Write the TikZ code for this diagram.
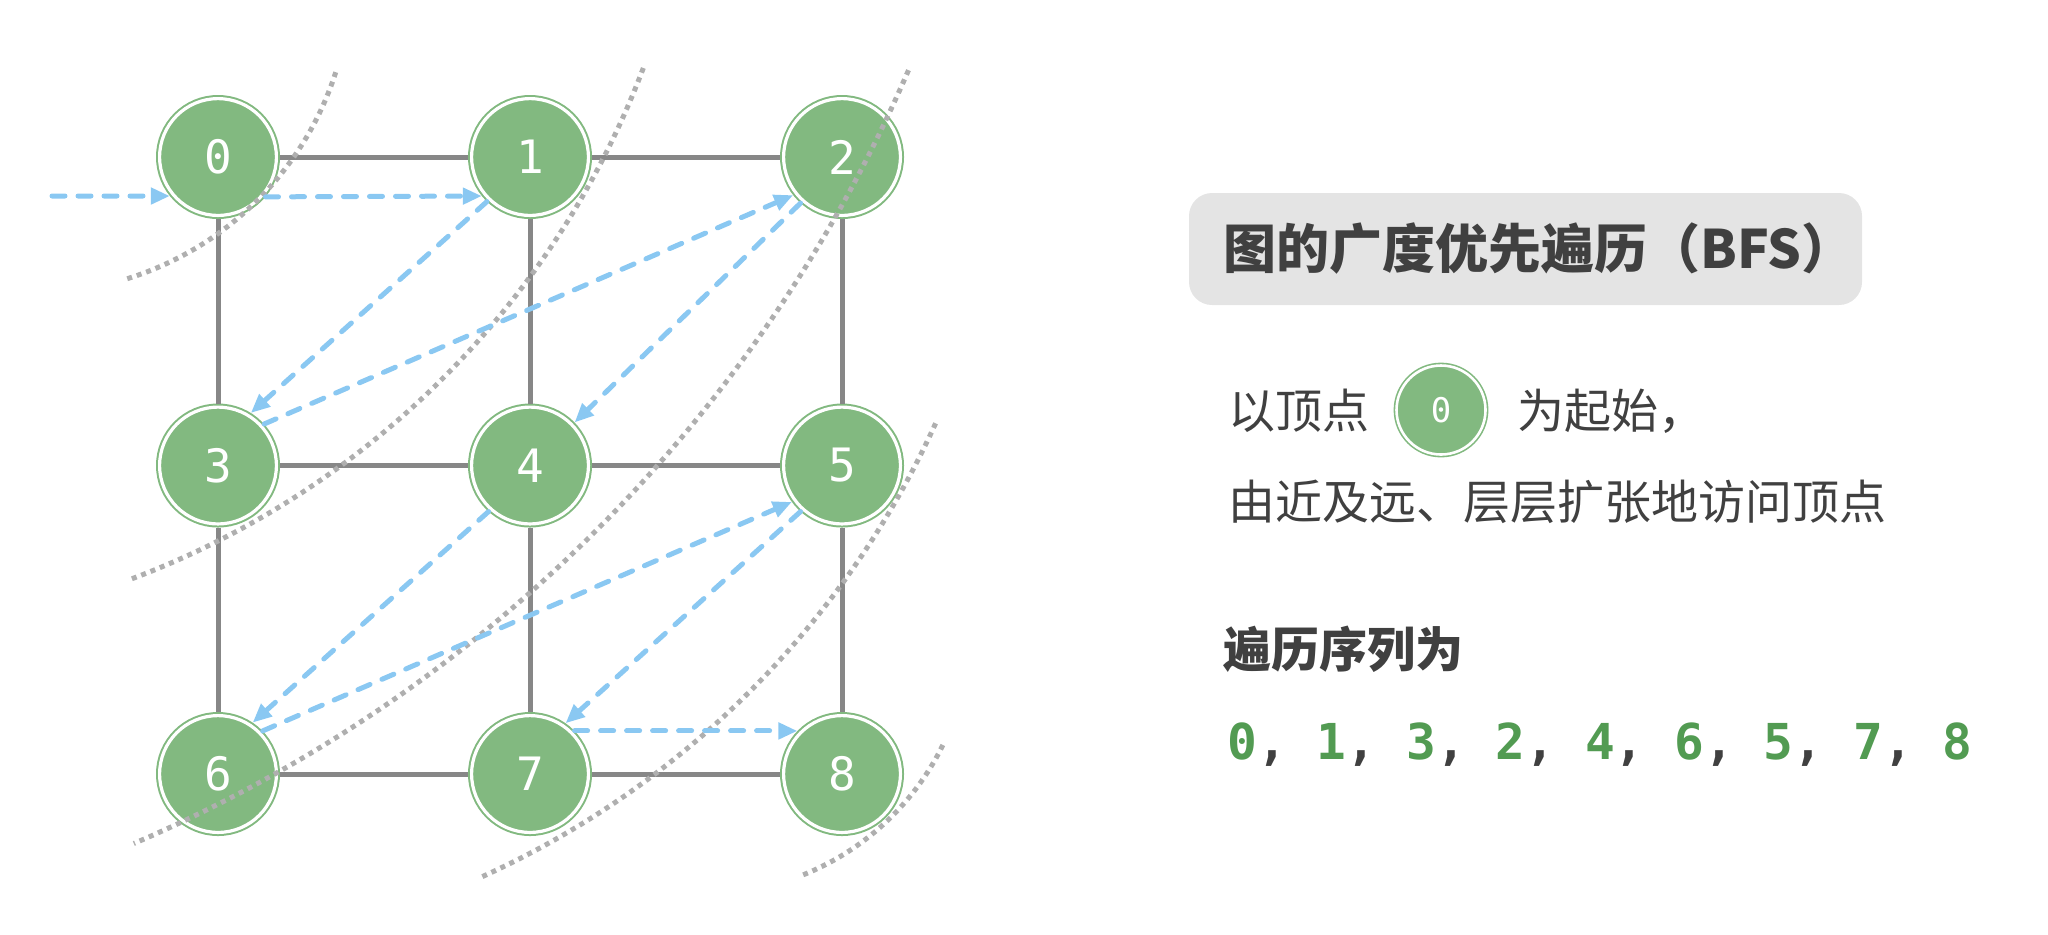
\documentclass[tikz,border=0pt]{standalone}
\usepackage{fontspec}
\newfontfamily\cjk{Noto Sans CJK SC}
\newfontfamily\monodigits{DejaVu Sans Mono}
\usetikzlibrary{arrows.meta}

\definecolor{nodegreen}{RGB}{130,185,128}
\definecolor{seqgreen}{RGB}{82,155,82}
\definecolor{edgegray}{RGB}{135,135,135}
\definecolor{dotgray}{RGB}{175,175,175}
\definecolor{bfsblue}{RGB}{138,200,242}
\definecolor{textgray}{RGB}{64,64,64}
\definecolor{boxgray}{RGB}{228,228,228}

\newcommand{\seqn}[1]{\textcolor{seqgreen}{#1}}

\begin{document}
\begin{tikzpicture}[x=0.5pt, y=-0.5pt,
    vertex/.style={circle, fill=nodegreen, draw=nodegreen, line width=1pt,
        double=white, double distance=1.6pt, minimum size=58.4pt, inner sep=0pt,
        outer sep=1.8pt, text=white, font=\monodigits\fontsize{23}{27}\selectfont},
    smallvertex/.style={vertex, line width=0.8pt, double distance=1.3pt,
        minimum size=44.5pt, font=\monodigits\fontsize{17}{20}\selectfont},
    gridline/.style={draw=edgegray, line width=2.5pt},
    bfsarrow/.style={draw=bfsblue, line width=2.5pt, line cap=round,
        dash pattern=on 6.5pt off 6.5pt, -{Triangle[length=9.5pt, width=8pt]}},
    levelline/.style={draw=dotgray, line width=2.5pt, dash pattern=on 2.5pt off 2.5pt},
    txt/.style={anchor=west, inner sep=0pt, text=textgray, font=\cjk\fontsize{23.5}{28}\selectfont}]

    \useasboundingbox (0,0) rectangle (2048,934);

    % Vertices:
    \foreach \r in {0,1,2}
        \foreach \c in {0,1,2} {
            \pgfmathtruncatemacro\k{3*\r+\c}
            \node[vertex] (n\k) at (218+312*\c, 157+308.5*\r) {\k};
        }

    % Edges:
    \foreach \a/\b in {0/1, 1/2, 3/4, 4/5, 6/7, 7/8, 0/3, 3/6, 1/4, 4/7, 2/5, 5/8}
        \draw[gridline] (n\a) -- (n\b);

    % Levels (centre / start / end / radius):
    \foreach \cx/\cy/\s/\e/\rad in {33/-25/-17.8/-73.2/159, -177/-242/-20.7/-69.5/438.5,
                                    -448/-514/-23.3/-66.8/738.5, 106/47/-24.4/-65.6/455.5,
                                    704/628/-26.1/-68.2/133}
        \draw[levelline] (\cx,\cy) ++(\s:\rad pt) arc[start angle=\s, end angle=\e, radius=\rad pt];

    % Traversal:
    \coordinate (entry) at (52,196);
    \draw[bfsarrow] (entry) -- (n0.-141);
    \foreach \a/\p/\b/\q in {0/-40/1/-141, 1/-134/3/58, 3/42/2/-142, 2/-132/4/44,
                             4/-132/6/56, 6/44/5/-144, 5/-132/7/55, 7/44/8/136}
        \draw[bfsarrow] (n\a.\p) -- (n\b.\q);

    % Legend:
    \fill[boxgray, rounded corners=11.5pt] (1189,193) rectangle (1862,305);
    \node[txt, font=\cjk\bfseries\fontsize{26.5}{32}\selectfont] (title) at (1223,249) {图的广度优先遍历（BFS）};
    \node[txt] (from) at (1228,411) {以顶点};
    \node[smallvertex] (s0) at (1441,410) {0};
    \node[txt] (begin) at (1517,411) {为起始，};
    \node[txt] (layers) at (1228,502) {由近及远、层层扩张地访问顶点};
    \node[txt, font=\cjk\bfseries\fontsize{24}{29}\selectfont] (seqtitle) at (1223,649) {遍历序列为};
    \node[txt, font=\monodigits\bfseries\fontsize{24.75}{30}\selectfont] (seq) at (1227,745)
        {\seqn{0}, \seqn{1}, \seqn{3}, \seqn{2}, \seqn{4}, \seqn{6}, \seqn{5}, \seqn{7}, \seqn{8}};
\end{tikzpicture}
\end{document}
